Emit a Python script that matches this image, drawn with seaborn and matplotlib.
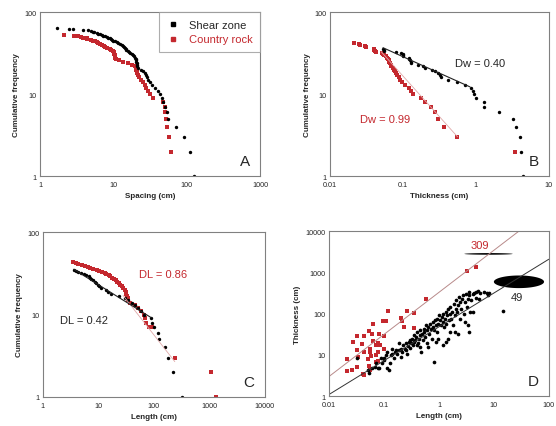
import numpy as np
import matplotlib
matplotlib.use("Agg")
import matplotlib.pyplot as plt
import matplotlib.ticker as mticker
from matplotlib.lines import Line2D
import seaborn as sns

RED = "#c4282e"

# ---- Panel A: spacing ----
a_shear_x = [1.7, 2.5, 2.8, 3.9, 4.5, 5.0, 5.2, 5.5, 5.9, 6.2, 6.6, 6.9, 7.2, 7.7, 8.1, 8.5,
             8.9, 9.3, 9.7, 10.0, 10.6, 11.2, 11.7, 12.3, 13.0, 13.5, 14.0, 14.5, 14.8, 15.0,
             15.8, 16.5, 17.0, 17.8, 18.5, 19.0, 19.5, 20.0, 20.3, 20.5, 20.7, 20.9, 21.0,
             21.5, 24, 25.5, 27, 28, 29, 30, 32, 34, 37, 40, 43, 46, 48, 50, 53, 55, 72, 92,
             112, 125]
a_shear_y = [64, 63, 62, 61, 60, 59, 58, 57, 56, 55, 54, 53, 52, 51, 50, 49, 48, 47, 46, 45,
             44, 43, 42, 41, 40, 39, 38, 37, 36, 35, 34, 33, 32, 31, 30, 29, 28, 27, 26, 25,
             24, 23, 22, 21, 20, 19, 18, 17, 16, 15, 14, 13, 12, 11, 10, 9, 8, 7, 6, 5, 4, 3,
             2, 1]
a_rock_x = [2.1, 2.9, 3.3, 3.6, 3.9, 4.3, 4.4, 5.0, 5.3, 5.6, 6.0, 6.2, 6.6, 7.0, 7.4, 7.7,
            8.3, 9.0, 9.4, 10.0, 10.1, 10.2, 10.3, 10.4, 10.5, 10.6, 11.0, 12.0, 13.5, 16,
            18, 19.5, 20, 20.5, 20.8, 21, 21.5, 22.5, 24, 25, 27, 28, 30, 32, 35, 47, 50, 51,
            52, 53, 57, 60]
a_rock_y = [53, 52, 51, 50, 49, 48, 47, 46, 45, 44, 43, 42, 41, 40, 39, 38, 37, 36, 35, 34,
            33, 32, 31, 30, 29, 28, 27, 26, 25, 24, 23, 22, 21, 20, 19, 18, 17, 16, 15, 14,
            13, 12, 11, 10, 9, 8, 7, 6, 5, 4, 3, 2]

# ---- Panel B: thickness ----
b_shear_x = [0.053, 0.054, 0.055, 0.08, 0.095, 0.1, 0.1, 0.1, 0.12, 0.12, 0.125, 0.13, 0.13,
             0.16, 0.19, 0.2, 0.25, 0.27, 0.3, 0.32, 0.33, 0.42, 0.55, 0.7, 0.85, 0.9, 0.95,
             1.0, 1.3, 1.3, 2.1, 3.2, 3.5, 4.0, 4.1, 4.4]
b_shear_y = [36, 35, 34, 33, 32, 31, 30, 29, 28, 27, 26, 25, 24, 23, 22, 21, 20, 19, 18, 17,
             16, 15, 14, 13, 12, 11, 10, 9, 8, 7, 6, 5, 4, 3, 2, 1]
b_rock_x = [0.021, 0.025, 0.026, 0.03, 0.031, 0.04, 0.04, 0.041, 0.042, 0.052, 0.053, 0.055,
            0.058, 0.06, 0.062, 0.064, 0.065, 0.066, 0.068, 0.069, 0.072, 0.075, 0.078, 0.08,
            0.083, 0.087, 0.092, 0.097, 0.105, 0.12, 0.13, 0.135, 0.175, 0.2, 0.24, 0.27, 0.3,
            0.36, 0.55, 3.4]
b_rock_y = [42, 41, 40, 39, 38, 36, 35, 34, 33, 32, 31, 30, 29, 28, 27, 26, 25, 24, 23, 22,
            21, 20, 19, 18, 17, 16, 15, 14, 13, 12, 11, 10, 9, 8, 7, 6, 5, 4, 3, 2]
b_fit_shear = (11.4, 0.40, 0.053, 0.83)   # coefficient, Dw, x range
b_fit_rock = (1.70, 0.99, 0.05, 0.56)

# ---- Panel C: length ----
c_shear_x = [3.7, 4.0, 4.3, 4.9, 5.5, 6.1, 6.9, 7.2, 7.5, 8.0, 8.6, 9.2, 9.8, 10.5, 11.3,
             13.5, 15, 17, 24, 30, 34, 40, 46, 52, 58, 68, 88, 95, 100, 118, 127, 157, 180,
             225, 320]
c_shear_y = [35, 34, 33, 32, 31, 30, 29, 28, 27, 26, 25, 24, 23, 22, 21, 20, 19, 18, 17, 16,
             15, 14, 13, 12, 11, 10, 9, 8, 7, 6, 5, 4, 3, 2, 1]
c_rock_x = [3.5, 3.9, 4.3, 5.0, 5.7, 6.5, 7.2, 8.2, 9.5, 10.5, 11.5, 13, 14, 15.5, 16.5, 18,
            19.5, 21, 22, 24, 25, 27, 28, 30, 31, 32, 33, 34, 35, 37, 45, 52, 58, 66, 70, 73,
            82, 94, 237, 1090, 1350]
c_rock_y = [43, 42, 41, 40, 39, 38, 37, 36, 35, 34, 33, 32, 31, 30, 29, 28, 27, 26, 25, 24,
            23, 22, 21, 20, 19, 18, 17, 16, 15, 14, 13, 12, 11, 10, 9, 8, 7, 7, 3, 2, 1]
c_fit_shear = (60.7, 0.42, 3.6, 90)
c_fit_rock = (299, 0.86, 28, 240)

# ---- Panel D: thickness vs length ----
d_rock_x = [0.57, 0.12, 0.26, 0.35, 0.063, 0.095, 0.11, 0.2, 0.21, 0.032, 0.044, 0.053, 0.061,
            0.081, 0.099, 0.027, 0.04, 0.063, 0.078, 0.072, 0.055, 0.086, 0.1, 0.032, 0.044,
            0.055, 0.059, 0.072, 0.078, 0.021, 0.033, 0.051, 0.078, 0.026, 0.021, 0.032,
            0.053, 0.072, 0.042, 0.043, 0.055, 3.2, 4.7, 0.23, 0.35]
d_rock_y = [226, 118, 118, 104, 56, 68, 65, 77, 68, 29, 28, 37, 33, 32, 28, 21, 18.5, 22, 20,
            17.5, 14, 17, 14, 13, 12, 11.6, 9.6, 10, 11.6, 8, 8.8, 8, 7.3, 4.4, 4.1, 5, 5.5,
            6.6, 3.5, 3.2, 4.2, 1100, 1370, 47, 45]
d_shear_x = [0.032, 0.051, 0.054, 0.061, 0.067, 0.077, 0.082, 0.090, 0.098, 0.10, 0.108,
             0.112, 0.124, 0.129, 0.132, 0.142, 0.152, 0.156, 0.163, 0.175, 0.187, 0.20,
             0.206, 0.214, 0.223, 0.236, 0.246, 0.256, 0.264, 0.275, 0.283, 0.294, 0.303,
             0.311, 0.324, 0.337, 0.347, 0.356, 0.372, 0.387, 0.398, 0.409, 0.427, 0.445,
             0.457, 0.47, 0.49, 0.51, 0.524, 0.538, 0.561, 0.585, 0.601, 0.618, 0.644, 0.671,
             0.69, 0.71, 0.74, 0.77, 0.79, 0.81, 0.80, 0.85, 0.88, 0.91, 0.93, 0.97, 1.01,
             1.04, 1.07, 1.12, 1.16, 1.20, 1.23, 1.28, 1.33, 1.37, 1.41, 1.47, 1.53, 1.57,
             1.62, 1.69, 1.76, 1.81, 1.86, 1.94, 2.01, 2.07, 2.13, 2.22, 2.31, 2.38, 2.44,
             2.55, 2.65, 2.73, 2.81, 2.92, 3.13, 3.22, 3.35, 3.49, 3.59, 3.69, 3.85, 4.12,
             4.41, 4.73, 5.06, 5.42, 5.57, 6.67, 7.65, 7.97, 8.19, 3.49, 4.73, 14.6, 0.398,
             0.457, 0.644, 0.88, 0.97, 1.20, 1.37, 1.47, 1.57, 1.94, 2.22, 2.92, 3.35, 4.12,
             0.187, 0.142, 0.115, 0.087, 0.072]
d_shear_y = [8.2, 4.4, 3.7, 4.8, 5.1, 4.7, 4.8, 6.2, 7.4, 8.2, 9.8, 4.7, 4.3, 6.2, 9.8, 10.8,
             8.2, 11.8, 13, 10.8, 13, 14.2, 9, 11.8, 17, 13.7, 19, 13, 10.8, 16.5, 21, 14.8,
             23, 19, 25, 17, 30, 21, 23, 27, 36, 19, 25, 40, 30, 11.8, 33, 23, 43, 36, 27, 52,
             40, 19, 48, 33, 57, 43, 25, 63, 48, 40, 6.8, 69, 52, 36, 76, 57, 91, 69, 52, 83,
             63, 100, 48, 76, 110, 57, 91, 132, 69, 100, 145, 76, 110, 52, 175, 91, 132, 210,
             110, 159, 253, 76, 192, 132, 231, 278, 100, 192, 305, 145, 222, 334, 278, 110,
             210, 305, 322, 334, 347, 222, 316, 334, 322, 278, 310, 35, 239, 116, 17, 15.6,
             15.6, 21, 25, 17, 21, 25, 36, 36, 33, 63, 52, 110, 19, 14.2, 11.8, 8.2, 6.2]
d_fit_rock = (330, 1.02, 0.01, 30)      # y = c * x**b
d_fit_shear = (48, 0.82, 0.01, 100)
thin_lens_x, thin_lens_y = [2.9, 22], [2700, 2960]
big_lens_x, big_lens_y = [10, 82], [418, 846]


def style_axes(ax, xlim, ylim, xticks, yticks, xlabel, ylabel, letter):
    ax.set_xscale("log")
    ax.set_yscale("log")
    ax.set_xlim(xlim)
    ax.set_ylim(ylim)
    ax.xaxis.set_major_locator(mticker.FixedLocator(xticks))
    ax.yaxis.set_major_locator(mticker.FixedLocator(yticks))
    ax.xaxis.set_major_formatter(mticker.FixedFormatter([f"{t:g}" for t in xticks]))
    ax.yaxis.set_major_formatter(mticker.FixedFormatter([f"{t:g}" for t in yticks]))
    ax.xaxis.set_minor_locator(mticker.LogLocator(base=10, subs=np.arange(2, 10), numticks=20))
    ax.yaxis.set_minor_locator(mticker.LogLocator(base=10, subs=np.arange(2, 10), numticks=20))
    ax.xaxis.set_minor_formatter(mticker.NullFormatter())
    ax.yaxis.set_minor_formatter(mticker.NullFormatter())
    ax.tick_params(which="both", direction="in", labelsize=5.2, width=0.5, color="#555555")
    ax.tick_params(axis="x", pad=3.5)
    ax.tick_params(axis="y", pad=2.5)
    ax.tick_params(which="major", length=3)
    ax.tick_params(which="minor", length=1.6)
    ax.set_xlabel(xlabel, fontsize=5.8, fontweight="bold", labelpad=3)
    ax.set_ylabel(ylabel, fontsize=5.8, fontweight="bold", labelpad=3)
    for sp in ax.spines.values():
        sp.set_visible(True)
        sp.set_color("#808080")
        sp.set_linewidth(0.8)
    ax.text(0.93, 0.09, letter, transform=ax.transAxes, fontsize=11, ha="center", va="center")


def dots(ax, x, y, color, marker, s):
    sns.scatterplot(x=x, y=y, ax=ax, color=color, marker=marker, s=s, linewidth=0, legend=False)


def power_line(ax, fit, color, lw, sign=-1):
    c, d, x0, x1 = fit
    xs = np.array([x0, x1])
    sns.lineplot(x=xs, y=c * xs ** (sign * d), ax=ax, color=color, lw=lw)


def lens(ax, xr, yr):
    t = np.linspace(0, 2 * np.pi, 120)
    lx, ly = np.log10(xr), np.log10(yr)
    cx, rx = lx.mean(), (lx[1] - lx[0]) / 2
    cy, ry = ly.mean(), (ly[1] - ly[0]) / 2
    ax.fill(10 ** (cx + rx * np.cos(t)), 10 ** (cy + ry * np.sin(t)), color="black", lw=0)


sns.set_style("white")
plt.rcParams["font.family"] = ["Liberation Sans", "DejaVu Sans"]

fig = plt.figure(figsize=(5.56, 4.27), dpi=100)
axA = fig.add_axes([0.072, 0.585, 0.396, 0.384])
axB = fig.add_axes([0.594, 0.585, 0.393, 0.384])
axC = fig.add_axes([0.077, 0.068, 0.399, 0.386])
axD = fig.add_axes([0.592, 0.070, 0.395, 0.386])

# A
dots(axA, a_rock_x, a_rock_y, RED, "s", 6)
dots(axA, a_shear_x, a_shear_y, "black", "o", 6)
style_axes(axA, (1, 1000), (1, 100), [1, 10, 100, 1000], [1, 10, 100],
           "Spacing (cm)", "Cumulative frequency", "A")
handles = [Line2D([], [], ls="", marker="s", ms=2.2, color="black"),
           Line2D([], [], ls="", marker="s", ms=2.2, color=RED)]
leg = axA.legend(handles, ["Shear zone", "Country rock"], loc="upper right", fontsize=8,
                 frameon=True, fancybox=False, edgecolor="#999999", borderaxespad=0,
                 handlelength=1.2, handletextpad=0.8, borderpad=0.7, labelspacing=0.4)
leg.get_frame().set_linewidth(0.8)
leg.get_texts()[1].set_color(RED)

# B
power_line(axB, b_fit_rock, "#e0a8a8", 0.6)
power_line(axB, b_fit_shear, "#222222", 0.8)
dots(axB, b_rock_x, b_rock_y, RED, "s", 6)
dots(axB, b_shear_x, b_shear_y, "black", "o", 6)
style_axes(axB, (0.01, 10), (1, 100), [0.01, 0.1, 1, 10], [1, 10, 100],
           "Thickness (cm)", "Cumulative frequency", "B")
axB.text(0.52, 24, "Dw = 0.40", fontsize=8, ha="left", va="center")
axB.text(0.0255, 5.0, "Dw = 0.99", fontsize=8, ha="left", va="center", color=RED)

# C
power_line(axC, c_fit_rock, "#e0a8a8", 0.6)
power_line(axC, c_fit_shear, "#222222", 0.8)
dots(axC, c_rock_x, c_rock_y, RED, "s", 6)
dots(axC, c_shear_x, c_shear_y, "black", "o", 6)
style_axes(axC, (1, 10000), (1, 100), [1, 10, 100, 1000, 10000], [1, 10, 100],
           "Length (cm)", "Cumulative frequency", "C")
axC.text(54, 31, "DL = 0.86", fontsize=8, ha="left", va="center", color=RED)
axC.text(2.08, 8.5, "DL = 0.42", fontsize=8, ha="left", va="center")

# D
power_line(axD, d_fit_rock, "#b88a8a", 0.7, sign=1)
power_line(axD, d_fit_shear, "#333333", 0.7, sign=1)
dots(axD, d_rock_x, d_rock_y, RED, "s", 9)
dots(axD, d_shear_x, d_shear_y, "black", "o", 7)
lens(axD, thin_lens_x, thin_lens_y)
lens(axD, big_lens_x, big_lens_y)
style_axes(axD, (0.01, 100), (1, 10000), [0.01, 0.1, 1, 10, 100], [1, 10, 100, 1000, 10000],
           "Length (cm)", "Thickness (cm)", "D")
axD.text(5.6, 4760, "309", fontsize=8, ha="center", va="center", color=RED)
axD.text(26, 252, "49", fontsize=8, ha="center", va="center")

fig.savefig("out.png", dpi=100)
